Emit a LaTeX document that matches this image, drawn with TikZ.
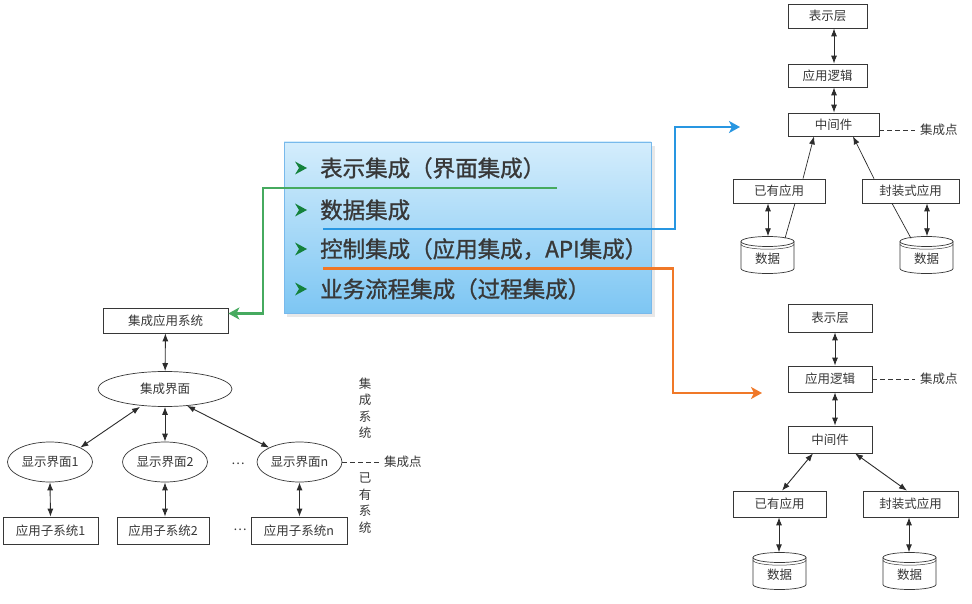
\documentclass[tikz,border=0pt]{standalone}
\usepackage{fontspec}
\setmainfont{Noto Sans CJK SC}
\newfontfamily\itemfont[FakeBold=1.2]{Noto Sans CJK SC}
\usetikzlibrary{arrows.meta,shapes.geometric}
\definecolor{gline}{RGB}{70,170,95}
\definecolor{bline}{RGB}{40,150,225}
\definecolor{oline}{RGB}{240,120,40}
\definecolor{boxtop}{RGB}{212,237,252}
\definecolor{boxbot}{RGB}{125,198,243}
\definecolor{boxedge}{RGB}{120,185,235}
\definecolor{bul}{RGB}{20,130,60}
\definecolor{ink}{RGB}{55,55,55}
\tikzset{
  box/.style={draw=ink, line width=0.7pt, fill=white, minimum height=25pt, inner sep=1pt, font=\fontsize{12.5}{13}\selectfont, text=ink},
  oval/.style={draw=ink, line width=0.7pt, ellipse, fill=white, inner sep=0pt, font=\fontsize{12.5}{13}\selectfont, text=ink},
  dba/.style={inner sep=0pt, minimum width=53pt, minimum height=45pt, font=\fontsize{12.5}{13}\selectfont, text=ink},
  lbl/.style={inner sep=0pt, font=\fontsize{12.5}{13}\selectfont, text=ink},
  both/.style={{Latex[length=8pt,width=6pt]}-{Latex[length=8pt,width=6pt]}, line width=0.9pt, draw=ink!80!black},
  one/.style={-{Latex[length=8pt,width=6pt]}, line width=0.7pt, draw=ink!80!black},
  plain/.style={line width=0.7pt, draw=ink!80!black},
  dashln/.style={line width=0.8pt, draw=ink, dash pattern=on 5pt off 3pt},
  route/.style={line width=2.8pt, -{Stealth[length=11pt,width=12pt,inset=3pt]}},
  item/.style={anchor=west, inner sep=0pt, font=\itemfont\fontsize{22.5}{23}\selectfont, text=black!78},
}
\newcommand\dbcyl[3]{%
  \draw[line width=0.7pt, draw=ink, fill=white] (#2-26.5,#3-13.5) -- (#2-26.5,#3+13.5)
    arc[start angle=180,end angle=360,x radius=26.5pt,y radius=5pt] -- (#2+26.5,#3-13.5)
    arc[start angle=0,end angle=180,x radius=26.5pt,y radius=5pt] -- cycle;
  \draw[line width=0.7pt, draw=ink] (#2-26.5,#3-13.5) arc[start angle=180,end angle=360,x radius=26.5pt,y radius=5pt];
  \draw[line width=0.5pt, draw=ink] (#2-26.5,#3-10.8) arc[start angle=180,end angle=360,x radius=26.5pt,y radius=5pt];
  \node[dba] (#1) at (#2,#3+4) {数据};
}
\newcommand\bullmark[2]{%
  \fill[bul] (#1,#2) -- (#1-12,#2-6.5) -- (#1-8,#2) -- (#1-12,#2+6.5) -- cycle;
}
\begin{document}
\begin{tikzpicture}[x=1pt,y=-1pt]
\useasboundingbox (0,0) rectangle (972,604);
\fill[white] (0,0) rectangle (972,604);

% ---------- central blue box ----------
\fill[black!9] (287,146) rectangle (655,317);
\node[draw=boxedge, line width=0.8pt, top color=boxtop, bottom color=boxbot, minimum width=367pt, minimum height=171pt, inner sep=0pt] (panel) at (467.5,227.5) {};
\bullmark{307}{168}
\bullmark{307}{210}
\bullmark{307}{249}
\bullmark{307}{289}
\node[item] (i1) at (320,168) {表示集成（界面集成）};
\node[item] (i2) at (320,210) {数据集成};
\node[item] (i3) at (320,249) {控制集成（应用集成，API集成）};
\node[item] (i4) at (320,289) {业务流程集成（过程集成）};

% ---------- left diagram ----------
\node[box, minimum width=125pt] (app) at (165.5,320.5) {集成应用系统};
\node[oval, minimum width=134pt, minimum height=35pt] (ui) at (165,389) {集成界面};
\node[oval, minimum width=85pt, minimum height=40pt] (s1) at (50,462) {显示界面1};
\node[oval, minimum width=85pt, minimum height=40pt] (s2) at (165,462) {显示界面2};
\node[oval, minimum width=85pt, minimum height=40pt] (sn) at (299.5,462) {显示界面n};
\node[lbl] (dotsA) at (238,464) {…};
\node[box, minimum width=95pt, minimum height=27pt] (b1) at (50.5,530.5) {应用子系统1};
\node[box, minimum width=92pt, minimum height=27pt] (b2) at (163,530.5) {应用子系统2};
\node[box, minimum width=96pt, minimum height=27pt] (bn) at (299,530.5) {应用子系统n};
\node[lbl] (dotsB) at (240,530) {…};
\coordinate (ipA) at (381,462);
\node[lbl, anchor=west] (ipL) at (384,462) {集成点};
\node[lbl, align=center, font=\fontsize{12.5}{16.5}\selectfont] (vsys1) at (365,408) {集\\成\\系\\统};
\node[lbl, align=center, font=\fontsize{12.5}{16.5}\selectfont] (vsys2) at (365,503) {已\\有\\系\\统};

\draw[both] (app) -- (ui);
\draw[both] ([xshift=-25pt]ui.south) -- (s1.north east);
\draw[both] (ui.south) -- (s2.north);
\draw[both] ([xshift=22pt,yshift=1pt]ui.south) -- (sn.north west);
\draw[both] (s1.south) -- (b1.north);
\draw[both] (s2.south) -- ([xshift=2pt]b2.north);
\draw[both] (sn.south) -- ([xshift=0.5pt]bn.north);
\draw[dashln] (sn.east) -- (ipA);

% ---------- right top diagram ----------
\node[box, minimum width=79pt, minimum height=24pt] (t1) at (827.5,16) {表示层};
\node[box, minimum width=79pt, minimum height=23pt] (t2) at (827.5,75.5) {应用逻辑};
\node[box, minimum width=91pt, minimum height=23pt] (t3) at (833.5,124.5) {中间件};
\node[box, minimum width=92pt, minimum height=24pt] (t4) at (779,191) {已有应用};
\node[box, minimum width=97pt, minimum height=24pt] (t5) at (910.5,191) {封装式应用};
\dbcyl{td1}{767.5}{255}
\dbcyl{td2}{926.5}{255}
\coordinate (ipB) at (915,130);
\node[lbl, anchor=west] (ipBL) at (920,130) {集成点};
\draw[both] ([xshift=6.5pt]t1.south) -- ([xshift=6.5pt]t2.north);
\draw[both] ([xshift=6.5pt]t2.south) -- ([xshift=0.5pt]t3.north);
\draw[one] ([xshift=24pt]t4.north) -- ([xshift=-19.5pt]t3.south);
\draw[one] ([xshift=-36.5pt]t5.north) -- ([xshift=19.5pt]t3.south);
\draw[both] ([xshift=-11pt]t4.south) -- ([xshift=0.5pt]td1.north);
\draw[plain] ([xshift=16pt]t4.south) -- ([xshift=17.5pt,yshift=-2pt]td1.north);
\draw[both] ([xshift=16.5pt]t5.south) -- ([xshift=0.5pt]td2.north);
\draw[plain] ([xshift=-18.5pt]t5.south) -- ([xshift=-15.5pt,yshift=-2pt]td2.north);
\draw[dashln] ([yshift=-5.5pt]t3.east) -- (ipB);

% ---------- right bottom diagram ----------
\node[box, minimum width=84pt, minimum height=28pt] (r1) at (830,318) {表示层};
\node[box, minimum width=84pt, minimum height=26pt] (r2) at (830,379) {应用逻辑};
\node[box, minimum width=84pt, minimum height=27pt] (r3) at (830,439.5) {中间件};
\node[box, minimum width=93pt, minimum height=26pt] (r4) at (779.5,504) {已有应用};
\node[box, minimum width=95pt, minimum height=26pt] (r5) at (910.5,504) {封装式应用};
\dbcyl{rd1}{779.5}{571}
\dbcyl{rd2}{909.5}{571}
\coordinate (ipC) at (915,379);
\node[lbl, anchor=west] (ipCL) at (920,379) {集成点};
\draw[both] ([xshift=5pt]r1.south) -- ([xshift=5pt]r2.north);
\draw[both] ([xshift=5pt]r2.south) -- ([xshift=5pt]r3.north);
\draw[both] ([xshift=-17pt]r3.south) -- ([xshift=2.5pt]r4.north);
\draw[both] ([xshift=25pt]r3.south) -- ([xshift=-3.5pt]r5.north);
\draw[both] ([xshift=-0.5pt]r4.south) -- ([xshift=-0.5pt]rd1.north);
\draw[both] ([xshift=-1.5pt]r5.south) -- ([xshift=-0.5pt]rd2.north);
\draw[dashln] (r2.east) -- (ipC);

% ---------- colored routes ----------
\coordinate (gS) at (557,188);
\coordinate (bS) at (323,229);
\coordinate (oS) at (323,268.5);
\coordinate (bT) at (740,127);
\coordinate (oT) at (762,393);
\draw[route, gline] (gS) -- (263,188) -- (263,313.5) -- ([yshift=7pt]app.east);
\draw[route, bline] (bS) -- (675,229) -- (675,127) -- (bT);
\draw[route, oline] (oS) -- (673,268.5) -- (673,393) -- (oT);
\end{tikzpicture}
\end{document}
